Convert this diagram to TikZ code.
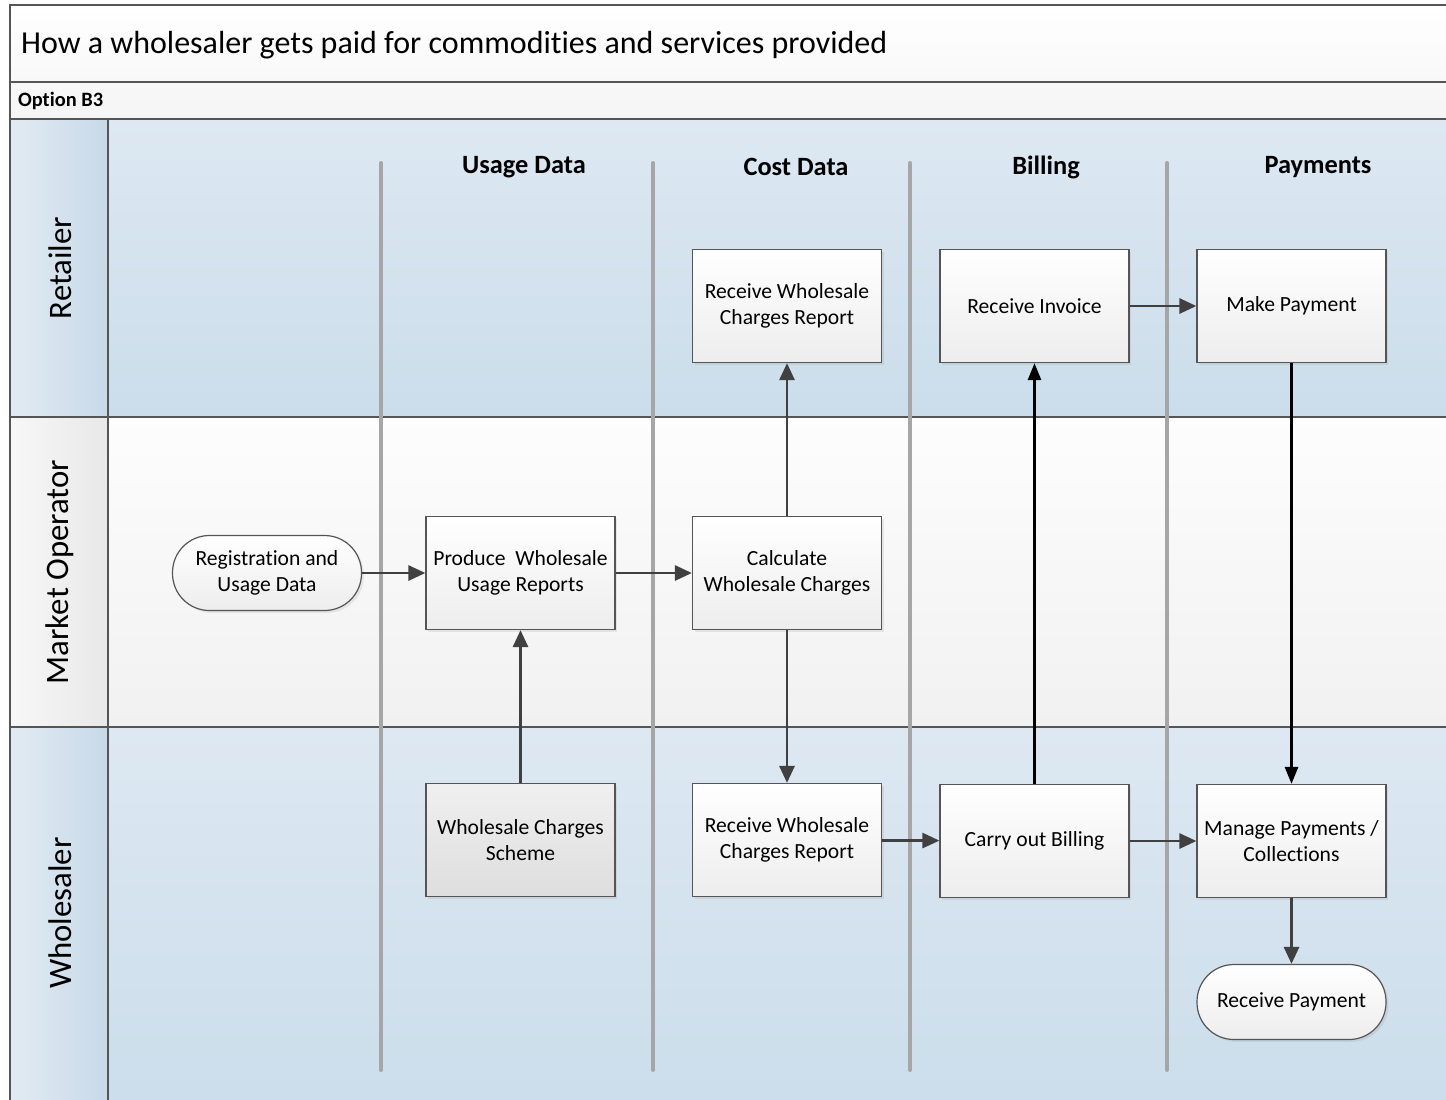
\documentclass[tikz,border=0pt]{standalone}
\usepackage{fontspec}
\setmainfont{Carlito}[Ligatures=NoCommon]
\usetikzlibrary{arrows.meta,positioning,shadows}
\definecolor{lanebluetop}{HTML}{DDE8F2}
\definecolor{lanebluebot}{HTML}{CBDDEB}
\definecolor{lanegreytop}{HTML}{FDFDFD}
\definecolor{lanegreybot}{HTML}{F1F1F1}
\definecolor{hdrleft}{HTML}{E2EBF3}
\definecolor{hdrright}{HTML}{C7D9E8}
\definecolor{frameline}{HTML}{555555}
\definecolor{sepgrey}{HTML}{A6A6A6}
\definecolor{arrowgrey}{HTML}{404040}
\tikzset{
  procbox/.style={draw=frameline, line width=0.6pt, top color=white, bottom color=black!7,
                  minimum width=94.5pt, minimum height=56.5pt, inner sep=2pt,
                  align=center, font=\fontsize{10.8}{13}\selectfont,
                  drop shadow={shadow xshift=1.2pt, shadow yshift=-1.2pt, opacity=0.15}},
  schemebox/.style={procbox, top color=black!6, bottom color=black!13},
  termbox/.style={procbox, minimum height=37.5pt, rounded corners=18.5pt},
  lanelbl/.style={rotate=90, font=\fontsize{16.4}{19}\selectfont},
  colhead/.style={font=\bfseries\fontsize{13.2}{15}\selectfont},
  lanesep/.style={draw=sepgrey, line width=2pt, line cap=round},
  arr/.style={-{Triangle[length=8.5pt,width=7.5pt]}, line width=1.4pt, color=arrowgrey},
  barr/.style={-{Triangle[length=8.5pt,width=6.5pt]}, line width=1.4pt, color=black}}

\begin{document}
\begin{tikzpicture}[x=0.5pt, y=-0.5pt]
  \useasboundingbox (0,0) rectangle (1446,1099);
  \clip (0,0) rectangle (1446,1099);
  % swim lanes
  \shade[top color=lanebluetop, bottom color=lanebluebot] (108,119) rectangle (1460,417);
  \shade[top color=lanegreytop, bottom color=lanegreybot] (108,417) rectangle (1460,727);
  \shade[top color=lanebluetop, bottom color=lanebluebot] (108,727) rectangle (1460,1110);
  \shade[left color=hdrleft, right color=hdrright] (10,119) rectangle (108,417);
  \shade[left color=black!3, right color=black!9] (10,417) rectangle (108,727);
  \shade[left color=hdrleft, right color=hdrright] (10,727) rectangle (108,1110);
  \fill[top color=white, bottom color=black!4] (10,5) rectangle (1460,119);
  \draw[frameline, line width=0.7pt] (10,1110) -- (10,5) -- (1460,5);
  \draw[frameline, line width=0.7pt] (10,82) -- (1460,82);
  \draw[frameline, line width=0.7pt] (10,119) -- (1460,119);
  \draw[frameline, line width=0.7pt] (10,417) -- (1460,417);
  \draw[frameline, line width=0.7pt] (10,727) -- (1460,727);
  \draw[frameline, line width=0.7pt] (108,119) -- (108,1110);
  \node[anchor=west, font=\fontsize{16}{19}\selectfont] (title) at (14,45)
    {How a wholesaler gets paid for commodities and services provided};
  \node[anchor=west, font=\bfseries\fontsize{10.2}{12}\selectfont] (option) at (11,101) {Option B3};
  \node[lanelbl] (retailer) at (60,268) {Retailer};
  \node[lanelbl] (operator) at (60,572) {Market Operator};
  \node[lanelbl] (wholesaler) at (60,913) {Wholesaler};
  % phase separators
  \foreach \sx/\sname in {381/sepa, 653/sepb, 910/sepc, 1167/sepd}
    \draw[lanesep] (\sx,163) coordinate (\sname) -- (\sx,1070);
  \node[colhead] (usage) at (524,167) {Usage Data};
  \node[colhead] (cost) at (796,167) {Cost Data};
  \node[colhead] (billing) at (1046,167) {Billing};
  \node[colhead] (payments) at (1318,167) {Payments};
  % steps
  \node[procbox] (rcvret) at (787,306) {Receive Wholesale\\Charges Report};
  \node[procbox] (invoice) at (1034.5,306) {Receive Invoice};
  \node[procbox] (makepay) at (1291.5,306) {Make Payment};
  \node[termbox] (regdata) at (267,573) {Registration and\\Usage Data};
  \node[procbox] (produce) at (520.5,573) {Produce~ Wholesale\\Usage Reports};
  \node[procbox] (calc) at (787,573) {Calculate\\Wholesale Charges};
  \node[schemebox] (scheme) at (520.5,840) {Wholesale Charges\\Scheme};
  \node[procbox] (rcvwhl) at (787,840) {Receive Wholesale\\Charges Report};
  \node[procbox] (carry) at (1034.5,841) {Carry out Billing};
  \node[procbox] (manage) at (1291.5,841) {Manage Payments /\\Collections};
  \node[termbox] (rcvpay) at (1291.5,1002) {Receive Payment};
  % flows
  \draw[arr] (regdata) -- (produce);
  \draw[arr] (produce) -- (calc);
  \draw[arr] (scheme) -- (produce);
  \draw[arr] (calc) -- (rcvret);
  \draw[arr] (calc) -- (rcvwhl);
  \draw[arr] (rcvwhl) -- (carry);
  \draw[barr] (carry) -- (invoice);
  \draw[arr] (invoice) -- (makepay);
  \draw[barr] (makepay) -- (manage);
  \draw[arr] (carry) -- (manage);
  \draw[arr] (manage) -- (rcvpay);
\end{tikzpicture}
\end{document}
